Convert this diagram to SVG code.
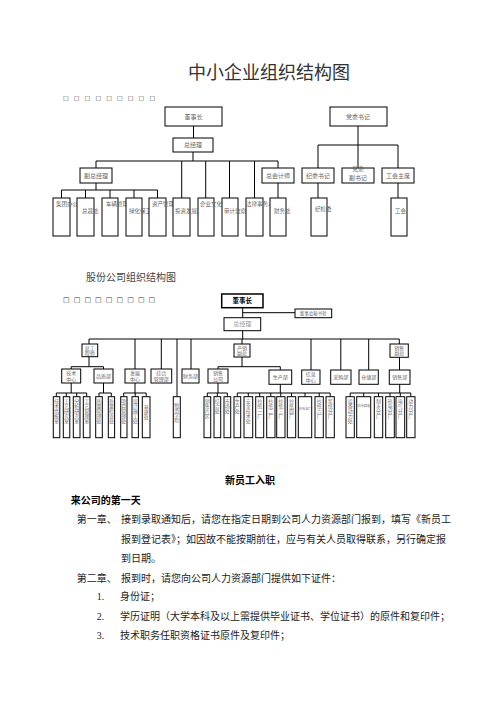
<svg xmlns="http://www.w3.org/2000/svg" width="496" height="702" viewBox="0 0 496 702">
<style>
.b{fill:#fff;stroke:#000;stroke-width:1}
.l{stroke:#000;stroke-width:1;fill:none}
.t{font-family:"Noto Sans CJK SC",sans-serif;fill:#666;font-size:6px}
.s{font-size:5.5px}
.c{text-anchor:middle}
.v{font-family:"Noto Sans CJK SC",sans-serif;fill:#777;font-size:5px;writing-mode:tb;glyph-orientation-vertical:0}
.sq{font-family:"DejaVu Sans",sans-serif;fill:#333}
.body{font-family:"Noto Sans CJK SC",sans-serif;fill:#222;font-size:10px}
.num{font-family:"Liberation Serif",serif;fill:#222;font-size:10px}
</style>
<rect width="496" height="702" fill="#fff"/>
<text x="269" y="79" class="c" style="font-family:'Noto Sans CJK SC',sans-serif;font-size:18px;fill:#333">中小企业组织结构图</text>
<text class="sq" style="font-size:6px" y="100" x="63 73.8 84.6 95.4 106.2 117 127.8 138.6 149.4">□□□□□□□□□</text>

<g id="connectors1">
<path class="l" d="M193.5 126V138M193 152V161M96 161H278M96 161V168M181.7 161V198M205.7 161V198M229.5 161V198M254.5 161V198M278 161V168"/>
<path class="l" d="M96 183V190M61.5 190H157.5M61.5 190V198M85.5 190V198M110 190V198M134 190V198M157.5 190V198"/>
<path class="l" d="M278 183V198M358 126V145M318 145H398M318 145V168M358 145V168M398 145V168M318 183V198M398 183V198"/>
</g>
<g id="n-dsz"><rect class="b" x="165" y="107" width="57" height="19"/><text class="t c" x="193.5" y="119">董事长</text></g>
<g id="n-zjl"><rect class="b" x="173" y="138" width="40" height="14"/><text class="t c" x="193" y="147">总经理</text></g>
<g id="n-fzjl"><rect class="b" x="80" y="168" width="32" height="15"/><text class="t c" x="96" y="177.5">副总经理</text></g>
<g id="n-zkjs"><rect class="b" x="262" y="168" width="32" height="15"/><text class="t c" x="278" y="177.5">总会计师</text></g>
<g id="n-dwsj"><rect class="b" x="330" y="107" width="57" height="19"/><text class="t c" x="358" y="119">党委书记</text></g>
<g id="n-jwsj"><rect class="b" x="302" y="168" width="32" height="15"/><text class="t c" x="318" y="177.5">纪委书记</text></g>
<g id="n-dwfsj"><rect class="b" x="342" y="168" width="32" height="15"/><text class="t c" x="358" y="171">党委</text><text class="t c" x="358" y="180">副书记</text></g>
<g id="n-ghzx"><rect class="b" x="382" y="168" width="32" height="15"/><text class="t c" x="398" y="177.5">工会主席</text></g>
<g id="n-b1"><rect class="b" x="53" y="198" width="17" height="38"/><text class="t s" x="56" y="206">集团办公室</text></g>
<g id="n-b2"><rect class="b" x="77" y="198" width="17" height="38"/><text class="t s" x="82" y="213">总裁处</text></g>
<g id="n-b3"><rect class="b" x="102" y="198" width="16" height="38"/><text class="t s" x="106" y="206">车辆管理处</text></g>
<g id="n-b4"><rect class="b" x="126" y="198" width="16" height="38"/><text class="t s" x="129" y="213">绿化保卫</text></g>
<g id="n-b5"><rect class="b" x="149" y="198" width="17" height="38"/><text class="t s" x="152" y="206">资产管理处</text></g>
<g id="n-b6"><rect class="b" x="173" y="198" width="17" height="38"/><text class="t s" x="175" y="213">投资发展部</text></g>
<g id="n-b7"><rect class="b" x="198" y="198" width="16" height="38"/><text class="t s" x="200" y="206">企业文化部</text></g>
<g id="n-b8"><rect class="b" x="222" y="198" width="16" height="38"/><text class="t s" x="224" y="213">审计监察部</text></g>
<g id="n-b9"><rect class="b" x="246" y="198" width="17" height="38"/><text class="t s" x="246" y="206">法律事务人</text></g>
<g id="n-cwc"><rect class="b" x="270" y="198" width="16" height="38"/><text class="t s" x="274" y="213">财务处</text></g>
<g id="n-jjw"><rect class="b" x="311" y="198" width="16" height="38"/><text class="t s" x="315" y="211">纪检委</text></g>
<g id="n-gh"><rect class="b" x="391" y="198" width="16" height="38"/><text class="t s" x="395" y="213">工会</text></g>

<text x="86" y="281" style="font-family:'Noto Sans CJK SC',sans-serif;font-size:10px;fill:#444">股份公司组织结构图</text>
<text class="sq" style="font-size:7px" y="302" x="63 73.7 84.4 95.1 105.8 116.5 127.2 137.9 148.6">□□□□□□□□□</text>

<g id="connectors2">
<path class="l" d="M242.7 307.7V317.7M242.7 312.7H295M242.7 330.7V339M89 339H399.3M89 339V344M135 339V369M161.3 339V369M177 339V396.7M191 339V369M242 339V344M311 339V370M340.8 339V370M368.7 339V370M399.3 339V344"/>
<path class="l" d="M89 356.7V366.7M71.2 366.7H103.5M71.2 366.7V369M103.5 366.7V369M242 357V366.7M218 366.7H280.3M218 366.7V369M280.3 366.7V370M399.5 357.3V370"/>
<path class="l" d="M71.2 383V393M56.3 393H86.7M56.3 393V396.7M66.3 393V396.7M76.7 393V396.7M86.7 393V396.7M103.5 383V393M99 393H111.3M99 393V396.7M111.3 393V396.7M135 383V393M123.7 393H146.2M123.7 393V396.7M135.2 393V396.7M146.2 393V396.7"/>
<path class="l" d="M218 383V393M207.3 393H227.3M207.3 393V396.7M217.3 393V396.7M227.3 393V396.7M280.3 384.3V393M237.3 393H330.2M237.3 393V396.7M248.3 393V396.7M259.7 393V396.7M270.8 393V396.7M280.8 393V396.7M291.5 393V396.7M305 393V396.7M319.2 393V396.7M330.2 393V396.7M399.7 384.3V393M350.2 393H410.8M350.2 393V396.7M363.7 393V396.7M378.5 393V396.7M390 393V396.7M400.3 393V396.7M410.8 393V396.7"/>
</g>
<g id="m-dsz"><rect x="221.7" y="294" width="41.3" height="13.7" fill="#fff" stroke="#000" stroke-width="1.5"/><text class="c" x="242.3" y="303.3" style="font-family:'Noto Sans CJK SC',sans-serif;font-size:6.5px;font-weight:bold;fill:#000">董事长</text></g>
<g id="m-msc"><rect class="b" x="295" y="309" width="36.7" height="8.7"/><text class="t c" x="313.3" y="315.3" style="font-size:4.5px">董事会秘书处</text></g>
<g id="m-zjl"><rect class="b" x="224" y="317.7" width="36.7" height="13"/><text class="t c" x="242.3" y="326.3" style="fill:#999">总经理</text></g>
<g id="m-zgcs"><rect class="b" x="82" y="344" width="15.7" height="12.7"/><text class="t c" x="89.8" y="349.5" style="font-size:5px">总工</text><text class="t c" x="89.8" y="355" style="font-size:5px">程师</text></g>
<g id="m-cxfz"><rect class="b" x="234" y="344" width="16" height="13"/><text class="t c" x="242" y="349.5" style="font-size:5px">产销</text><text class="t c" x="242" y="355" style="font-size:5px">副总</text></g>
<g id="m-xsfz"><rect class="b" x="390" y="344" width="18.3" height="13.3"/><text class="t c" x="399.2" y="349.5" style="font-size:5px">销售</text><text class="t c" x="399.2" y="355.3" style="font-size:5px">副总</text></g>
<g id="m-jszx"><rect class="b" x="61.7" y="369" width="19" height="14"/><text class="t c" x="71.2" y="375" style="font-size:5px">技术</text><text class="t c" x="71.2" y="381" style="font-size:5px">中心</text></g>
<g id="m-pzb"><rect class="b" x="94" y="369" width="19" height="14"/><text class="t c" x="103.5" y="378" style="font-size:5px">品质部</text></g>
<g id="m-fzzx"><rect class="b" x="125" y="369" width="20" height="14"/><text class="t c" x="135" y="375" style="font-size:5px">发展</text><text class="t c" x="135" y="381" style="font-size:5px">中心</text></g>
<g id="m-zhgl"><rect class="b" x="151" y="369" width="20.7" height="14"/><text class="t c" x="161.3" y="375" style="font-size:5px">综合</text><text class="t c" x="161.3" y="381" style="font-size:5px">管理部</text></g>
<g id="m-cwb"><rect class="b" x="182" y="369" width="17" height="14"/><text class="t c" x="190.5" y="378" style="font-size:5px">财务部</text></g>
<g id="m-xsgs"><rect class="b" x="208" y="369" width="20" height="14"/><text class="t c" x="218" y="375" style="font-size:5px">销售</text><text class="t c" x="218" y="381" style="font-size:5px">公司</text></g>
<g id="m-scb"><rect class="b" x="269" y="370" width="22.7" height="14.3"/><text class="t c" x="280.3" y="379" style="font-size:5px">生产部</text></g>
<g id="m-xxzx"><rect class="b" x="301.7" y="370" width="18.3" height="14.3"/><text class="t c" x="310.8" y="376" style="font-size:5px">信息</text><text class="t c" x="310.8" y="382" style="font-size:5px">中心</text></g>
<g id="m-cgb"><rect class="b" x="330.7" y="370" width="20.3" height="14.3"/><text class="t c" x="340.8" y="379" style="font-size:5px">采购部</text></g>
<g id="m-ccb"><rect class="b" x="359" y="370" width="19.3" height="14.3"/><text class="t c" x="368.7" y="379" style="font-size:5px">仓储部</text></g>
<g id="m-xsb"><rect class="b" x="389.3" y="370" width="20.7" height="14.3"/><text class="t c" x="399.7" y="379" style="font-size:5px">销售部</text></g>

<g id="m-leaves">
<rect class="b" x="53.3" y="396.7" width="6.5" height="41"/><text class="v" x="56.5" y="399">技术情报室</text>
<rect class="b" x="63.3" y="396.7" width="6.5" height="41"/><text class="v" x="66.5" y="399">工艺研究室</text>
<rect class="b" x="73.3" y="396.7" width="6.7" height="41"/><text class="v" x="76.7" y="399">分析研究室</text>
<rect class="b" x="83.3" y="396.7" width="6.7" height="41"/><text class="v" x="86.7" y="399">工艺管理室</text>
<rect class="b" x="95.7" y="396.7" width="6.6" height="41"/><text class="v" x="99" y="399">质量管理处</text>
<rect class="b" x="108.3" y="396.7" width="6.3" height="41"/><text class="v" x="111.4" y="399">质量检查处</text>
<rect class="b" x="120.7" y="396.7" width="6.3" height="41"/><text class="v" x="123.8" y="399">项目管理处</text>
<rect class="b" x="132" y="396.7" width="6.4" height="41"/><text class="v" x="135.2" y="399">设计施工处</text>
<rect class="b" x="142.3" y="396.7" width="7.7" height="41"/><text class="v" x="146.2" y="405">基建处</text>
<rect class="b" x="173.3" y="396.7" width="7" height="41"/><text class="v" x="176.8" y="403">物资学院</text>
<rect class="b" x="204" y="396.7" width="6.7" height="41"/><text class="v" x="207.3" y="399">销售片区</text>
<rect class="b" x="214" y="396.7" width="6.7" height="41"/><text class="v" x="217.3" y="399">综合处</text>
<rect class="b" x="224" y="396.7" width="6.7" height="41"/><text class="v" x="227.3" y="399">市场处</text>
<rect class="b" x="234" y="396.7" width="6.7" height="41"/><text class="v" x="237.3" y="399">生产处</text>
<rect class="b" x="244" y="396.7" width="8.7" height="41"/><text class="v" x="248.3" y="399">安全技术处</text>
<rect class="b" x="255.7" y="396.7" width="8" height="41"/><text class="v" x="259.7" y="399">抄纸一厂</text>
<rect class="b" x="266.7" y="396.7" width="8.3" height="41"/><text class="v" x="270.8" y="399">抄纸二厂</text>
<rect class="b" x="276.7" y="396.7" width="8.3" height="41"/><text class="v" x="280.8" y="399">抄纸三厂</text>
<rect class="b" x="287.3" y="396.7" width="8.4" height="41"/><text class="v" x="291.5" y="399">抄纸四厂</text>
<rect class="b" x="298.3" y="396.7" width="13.4" height="41"/><text class="t" x="298.8" y="410" style="font-size:3.2px">抄纸五厂</text>
<rect class="b" x="315" y="396.7" width="8.3" height="41"/><text class="v" x="319.2" y="399">抄纸六厂</text>
<rect class="b" x="326" y="396.7" width="8.3" height="41"/><text class="v" x="330.2" y="399">浆纸分厂</text>
<rect class="b" x="346" y="396.7" width="8.3" height="41"/><text class="v" x="350.2" y="399">设备动力处</text>
<rect class="b" x="356.7" y="396.7" width="14" height="41"/><text class="t" x="357.5" y="407" style="font-size:3.2px">白水回收</text>
<rect class="b" x="374.3" y="396.7" width="8.4" height="41"/><text class="v" x="378.5" y="399">制水分厂</text>
<rect class="b" x="385.7" y="396.7" width="8.6" height="41"/><text class="v" x="390" y="399">热电分厂</text>
<rect class="b" x="396" y="396.7" width="8.7" height="41"/><text class="v" x="400.3" y="399">电气分厂</text>
<rect class="b" x="406.7" y="396.7" width="8.3" height="41"/><text class="v" x="410.8" y="399">动力分厂</text>
</g>

<text x="250" y="484" class="c" style="font-family:'Noto Sans CJK SC',sans-serif;font-size:10px;font-weight:bold;fill:#000">新员工入职</text>
<text x="70.7" y="504" style="font-family:'Noto Sans CJK SC',sans-serif;font-size:10px;font-weight:bold;fill:#000">来公司的第一天</text>
<text class="body" x="76.7" y="523">第一章、</text>
<text class="body" x="121" y="523">接到录取通知后，请您在指定日期到公司人力资源部门报到，填写《新员工</text>
<text class="body" x="121" y="543">报到登记表》；如因故不能按期前往，应与有关人员取得联系，另行确定报</text>
<text class="body" x="121" y="562">到日期。</text>
<text class="body" x="76.7" y="582">第二章、</text>
<text class="body" x="121" y="582">报到时，请您向公司人力资源部门提供如下证件：</text>
<text class="num" x="96.7" y="600">1.</text>
<text class="body" x="120" y="600">身份证；</text>
<text class="num" x="96.7" y="619.5">2.</text>
<text class="body" x="120" y="619.5">学历证明（大学本科及以上需提供毕业证书、学位证书）的原件和复印件；</text>
<text class="num" x="96.7" y="639">3.</text>
<text class="body" x="120" y="639">技术职务任职资格证书原件及复印件；</text>
</svg>
